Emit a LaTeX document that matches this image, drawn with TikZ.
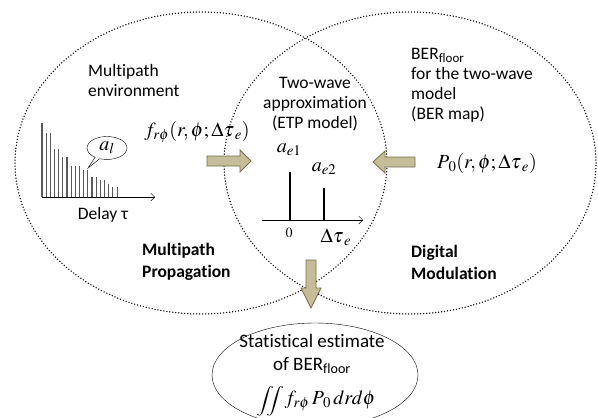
\documentclass[tikz,border=0pt]{standalone}
\usepackage{amsmath}
\usepackage{mathptmx}
\usepackage[no-math]{fontspec}
\setmainfont{Carlito}[Ligatures=NoCommon]
\usepackage{tikz}
\usetikzlibrary{positioning, arrows.meta, shapes.geometric, shapes.callouts}

\definecolor{khaki}{RGB}{196,189,151}
\definecolor{khakiline}{RGB}{120,110,75}
\newcommand{\tdelay}{\Delta\tau_{\mkern3mu e}}

\begin{document}
\begin{tikzpicture}[
    x=1pt, y=-1pt,
    zone/.style={
        line width=1.5pt,
        line cap=round,
        dash pattern=on 0pt off 3pt
    },
    result/.style={
        ellipse,
        draw,
        thin,
        minimum width=206pt,
        minimum height=104pt
    },
    txt/.style={font=\fontsize{17.5}{20}\selectfont, inner sep=0pt},
    bold/.style={font=\fontsize{17.5}{22}\selectfont\bfseries, inner sep=0pt, align=left, anchor=west},
    formula/.style={font=\fontsize{20}{24}\selectfont, inner sep=0pt},
    blockarrow/.style={fill=khaki, draw=khakiline, line width=0.8pt},
    impulse/.style={gray!70!black, line width=1.1pt},
    axis/.style={-{Straight Barb[length=4pt]}, thin}
]
\useasboundingbox (0,0) rectangle (598,418);

% the two domains
\draw[zone] (201,163) ellipse [x radius=186pt, y radius=151pt];
\draw[zone] (410,163) ellipse [x radius=186pt, y radius=151pt];

% multipath side
\node[txt, align=left, anchor=west] (environment) at (88,80) {Multipath\\environment};
\foreach \i/\h in {0/74,1/64,2/64,3/48,4/48,5/40,6/40,7/31,8/31,9/31,10/27,11/27,12/20,13/20,14/17,15/17,16/13,17/10,18/10}
    \draw[impulse] ({42+4.17*\i},197) -- ++(0,-\h);
\draw[axis] (42,197) -- (155,197);
\node[txt] (delay) at (103,215) {Delay τ};
\node[ellipse callout, draw, thin, fill=white, minimum width=40pt, minimum height=23pt,
      inner sep=0pt, callout absolute pointer={(88,168)}, formula] (gain) at (107,148) {$a_l$};
\node[formula] (density) at (197,132) {$f_{r\phi}(r,\phi;\tdelay)$};
\node[bold] (proplabel) at (142,262) {Multipath\\Propagation};

% two-wave model in the overlap
\node[txt, align=center] (twowave) at (315,104) {Two-wave\\approximation\\(ETP model)};
\draw[axis] (262,220) -- (363,220);
\draw[line width=1.6pt] (290,220) -- (290,172);
\draw[line width=1.6pt] (324,220) -- (324,188);
\node[formula] (ae1) at (289,150) {$a_{e1}$};
\node[formula] (ae2) at (324,169) {$a_{e2}$};
\node[font=\fontsize{14}{16}\selectfont, inner sep=0pt] (zero) at (289,233) {$0$};
\node[formula] (spread) at (336,237) {$\tdelay$};

% modulation side
\node[txt, align=left, anchor=west] (bermap) at (411,85)
    {BER\textsubscript{floor}\\for the two-wave\\model\\(BER map)};
\node[formula] (floor) at (487,163) {$P_{\mkern2mu 0}(r,\phi;\tdelay)$};
\node[bold] (modlabel) at (411,262) {Digital\\Modulation};

% block arrows
\filldraw[blockarrow] (207,156) -- (240,156) -- (240,150) -- (251,161) -- (240,172) -- (240,166) -- (207,166) -- cycle;
\filldraw[blockarrow] (415,157) -- (385,157) -- (385,151) -- (373,162) -- (385,173) -- (385,167) -- (415,167) -- cycle;
\filldraw[blockarrow] (306,260) -- (306,288) -- (301,288) -- (311,308) -- (321,288) -- (316,288) -- (316,260) -- cycle;

% estimate
\node[result] (estimate) at (315,375) {};
\node[txt, align=center, font=\fontsize{19}{23}\selectfont] (stat) at (312,354) {Statistical estimate\\of BER\textsubscript{floor}};
\node[formula] (integral) at (316,401) {$\scalebox{1}[0.74]{$\displaystyle\iint$} f_{r\phi}\mkern2mu P_{\mkern2mu 0}\,drd\phi$};

\end{tikzpicture}
\end{document}
